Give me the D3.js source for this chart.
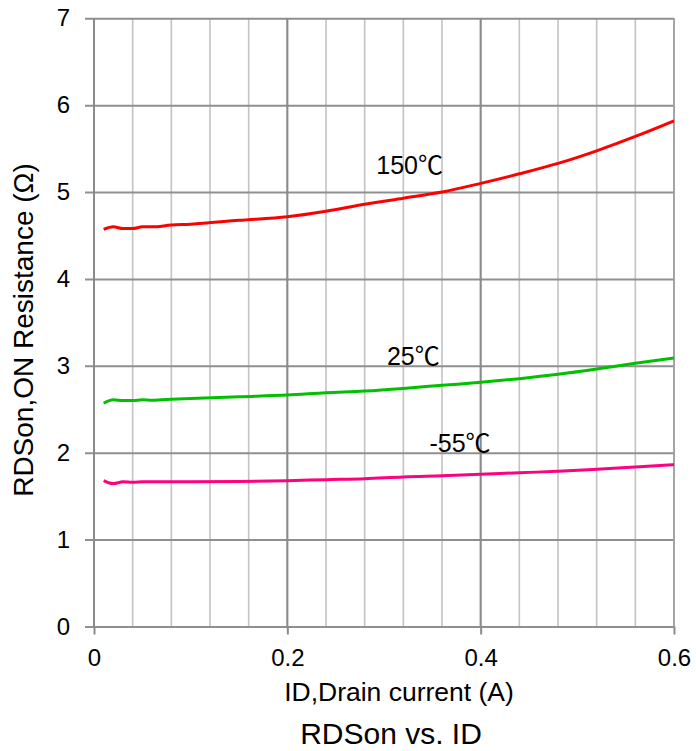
<!DOCTYPE html>
<html>
<head>
<meta charset="utf-8">
<script src="https://cdn.jsdelivr.net/npm/d3@7/dist/d3.min.js"></script>
<style>
  html, body { margin: 0; padding: 0; background: #fff; }
  svg { display: block; font-family: "Liberation Sans", Arial, sans-serif; }
</style>
</head>
<body>
<svg id="chart" width="696" height="751"></svg>
<script>
// ---- data ----
const xTicks = [0, 0.2, 0.4, 0.6];
const xMinorGrid = [0, 0.04, 0.08, 0.12, 0.16, 0.2, 0.24, 0.28, 0.32, 0.36, 0.4, 0.44, 0.48, 0.52, 0.56, 0.6];
const xMajorGrid = [0, 0.2, 0.4];
const yTicks = [0, 1, 2, 3, 4, 5, 6, 7];

const id150 = [0.01, 0.02, 0.03, 0.04, 0.05, 0.06, 0.08, 0.1, 0.15, 0.2, 0.24, 0.28, 0.32, 0.36, 0.4, 0.44, 0.48, 0.52, 0.56, 0.6];
const r150  = [4.57, 4.60, 4.58, 4.58, 4.60, 4.60, 4.62, 4.63, 4.675, 4.716, 4.78, 4.86, 4.93, 5.00, 5.10, 5.21, 5.33, 5.475, 5.64, 5.82];

const id25 = [0.01, 0.02, 0.03, 0.04, 0.05, 0.06, 0.07, 0.08, 0.1, 0.15, 0.2, 0.24, 0.28, 0.32, 0.36, 0.4, 0.44, 0.48, 0.52, 0.56, 0.6];
const r25  = [2.57, 2.61, 2.60, 2.60, 2.61, 2.605, 2.61, 2.615, 2.625, 2.645, 2.664, 2.69, 2.71, 2.74, 2.776, 2.81, 2.852, 2.902, 2.963, 3.03, 3.09];

const idm55 = [0.01, 0.015, 0.02, 0.03, 0.04, 0.05, 0.06, 0.08, 0.1, 0.15, 0.2, 0.24, 0.28, 0.32, 0.36, 0.4, 0.44, 0.48, 0.52, 0.56, 0.6];
const rm55  = [1.678, 1.655, 1.645, 1.665, 1.66, 1.665, 1.667, 1.666, 1.666, 1.67, 1.678, 1.69, 1.70, 1.722, 1.735, 1.751, 1.77, 1.786, 1.809, 1.835, 1.862];

const seriesNames = ["150℃", "25℃", "-55℃"];
const seriesColors = ["#ff0000", "#00c000", "#ff0080"];
const labelPos = [[0.292, 5.21], [0.303, 3.01], [0.347, 2.01]]; // data coords of label anchors

const xTitle = "ID,Drain current (A)";
const yTitle = "RDSon,ON Resistance (Ω)";
const chartTitle = "RDSon vs. ID";

// ---- layout ----
const svg = d3.select("#chart");
const plotL = 94, plotR = 674, plotT = 18.3, plotB = 626.5;
const FONT = "Liberation Sans, Arial, sans-serif";
const LABEL_FONT = "Liberation Sans, Noto Sans CJK SC, sans-serif";

const x = d3.scaleLinear().domain([0, 0.6]).range([plotL, plotR]);
const y = d3.scaleLinear().domain([0, 7]).range([plotB, plotT]);

// minor vertical grid
svg.append("g").selectAll("line").data(xMinorGrid).join("line")
  .attr("x1", d => x(d)).attr("x2", d => x(d))
  .attr("y1", y(7)).attr("y2", y(0))
  .attr("stroke", "#c3c3c3")
  .attr("stroke-width", 1.6);

// horizontal grid via left axis
const yAxis = d3.axisLeft(y).tickValues(yTicks).tickFormat(d3.format("d"))
  .tickSize(-(plotR - plotL + 9)).tickSizeOuter(0).tickPadding(15);
const gy = svg.append("g").attr("transform", `translate(${plotL - 9},0)`).call(yAxis);
gy.select(".domain").remove();
gy.selectAll(".tick line").attr("stroke", "#8f8f8f").attr("stroke-width", 2);
gy.selectAll(".tick text").attr("font-size", 24).attr("fill", "#000").attr("font-family", FONT);

// major vertical grid
svg.append("g").selectAll("line").data(xMajorGrid).join("line")
  .attr("x1", d => x(d)).attr("x2", d => x(d))
  .attr("y1", y(7)).attr("y2", y(0))
  .attr("stroke", "#8a8a8a")
  .attr("stroke-width", 2);
svg.append("line").attr("x1", x(0.6)).attr("x2", x(0.6)).attr("y1", y(7)).attr("y2", y(0))
  .attr("stroke", "#a0a0a0").attr("stroke-width", 1.8);

// x axis with ticks at major lines
const xAxis = d3.axisBottom(x).tickValues(xTicks).tickFormat(d3.format("")).tickSize(8).tickSizeOuter(0).tickPadding(14);
const gx = svg.append("g").attr("transform", `translate(0,${plotB})`).call(xAxis);
gx.select(".domain").remove();
gx.selectAll(".tick line").attr("stroke", "#8a8a8a").attr("stroke-width", 2);
gx.selectAll(".tick text").attr("font-size", 24).attr("fill", "#000").attr("font-family", FONT);

// curves
const seriesX = [id150, id25, idm55];
const seriesY = [r150, r25, rm55];
const line = d3.line().x(d => x(d[0])).y(d => y(d[1])).curve(d3.curveMonotoneX);
seriesX.forEach((xs, i) => {
  const pts = xs.map((v, j) => [v, seriesY[i][j]]);
  svg.append("path").datum(pts)
    .attr("d", line)
    .attr("fill", "none")
    .attr("stroke", seriesColors[i])
    .attr("stroke-width", 3)
    .attr("stroke-linejoin", "round");
});

// series labels
seriesNames.forEach((n, i) => {
  svg.append("text")
    .attr("x", x(labelPos[i][0])).attr("y", y(labelPos[i][1]))
    .attr("font-size", 25).attr("fill", "#000").attr("font-family", LABEL_FONT)
    .text(n);
});

// axis titles
svg.append("text").attr("x", 399).attr("y", 701)
  .attr("text-anchor", "middle").attr("font-size", 26.5).attr("fill", "#000").text(xTitle);
svg.append("text").attr("transform", `translate(33,330) rotate(-90)`)
  .attr("text-anchor", "middle").attr("font-size", 28).attr("fill", "#000").text(yTitle);
svg.append("text").attr("x", 391).attr("y", 744)
  .attr("text-anchor", "middle").attr("font-size", 30).attr("fill", "#000").text(chartTitle);
</script>
</body>
</html>
